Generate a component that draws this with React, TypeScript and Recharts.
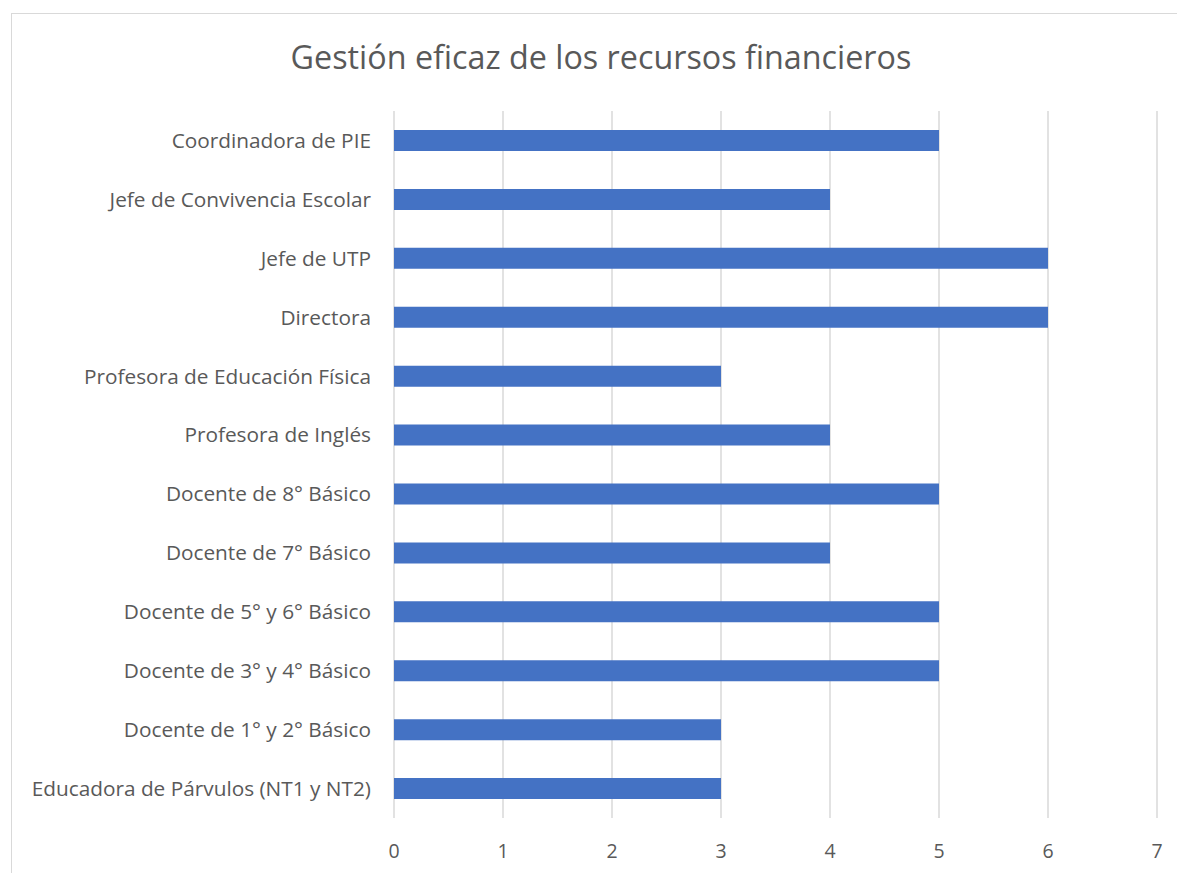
import { BarChart, Bar, XAxis, YAxis, CartesianGrid } from 'recharts';

const roles = [
  'Coordinadora de PIE',
  'Jefe de Convivencia Escolar',
  'Jefe de UTP',
  'Directora',
  'Profesora de Educación Física',
  'Profesora de Inglés',
  'Docente de 8° Básico',
  'Docente de 7° Básico',
  'Docente de 5° y 6° Básico',
  'Docente de 3° y 4° Básico',
  'Docente de 1° y 2° Básico',
  'Educadora de Párvulos (NT1 y NT2)',
];
const scores = [5, 4, 6, 6, 3, 4, 5, 4, 5, 5, 3, 3];
const xTicks = [0, 1, 2, 3, 4, 5, 6, 7];

const data = roles.map((r, i) => ({ role: r, value: scores[i] }));

const FONT = '"Open Sans", "Noto Sans", sans-serif';
const TEXT = '#595959';

export default function App() {
  return (
    <div style={{ position: 'absolute', left: 0, top: 0, width: 1177, height: 873, overflow: 'hidden', background: '#fff', fontFamily: FONT }}>
      <div style={{ position: 'absolute', left: 11, top: 13, width: 1300, height: 1000, border: '1px solid #D9D9D9', boxSizing: 'border-box' }} />
      <div style={{ position: 'absolute', left: 0, top: 36, width: 1202, textAlign: 'center', fontSize: 32.3, lineHeight: '40px', color: TEXT }}>
        Gestión eficaz de los recursos financieros
      </div>
      <div style={{ position: 'absolute', left: 0, top: 0 }}>
        <BarChart
          width={1177}
          height={873}
          data={data}
          layout="vertical"
          margin={{ top: 111, right: 20, bottom: 15, left: 0 }}
        >
          <CartesianGrid horizontal={false} stroke="#D9D9D9" strokeWidth={1.5} />
          <XAxis
            type="number"
            domain={[0, 7]}
            ticks={xTicks}
            axisLine={false}
            tickLine={false}
            tickSize={0}
            tickMargin={26}
            height={40}
            tick={{ fill: TEXT, fontSize: 19.5, fontFamily: FONT }}
          />
          <YAxis
            type="category"
            dataKey="role"
            width={394}
            axisLine={false}
            tickLine={false}
            tickSize={0}
            tickMargin={23}
            tick={{ fill: TEXT, fontSize: 20.8, fontFamily: FONT }}
          />
          <Bar dataKey="value" fill="#4472C4" barSize={21} isAnimationActive={false} />
        </BarChart>
      </div>
    </div>
  );
}
